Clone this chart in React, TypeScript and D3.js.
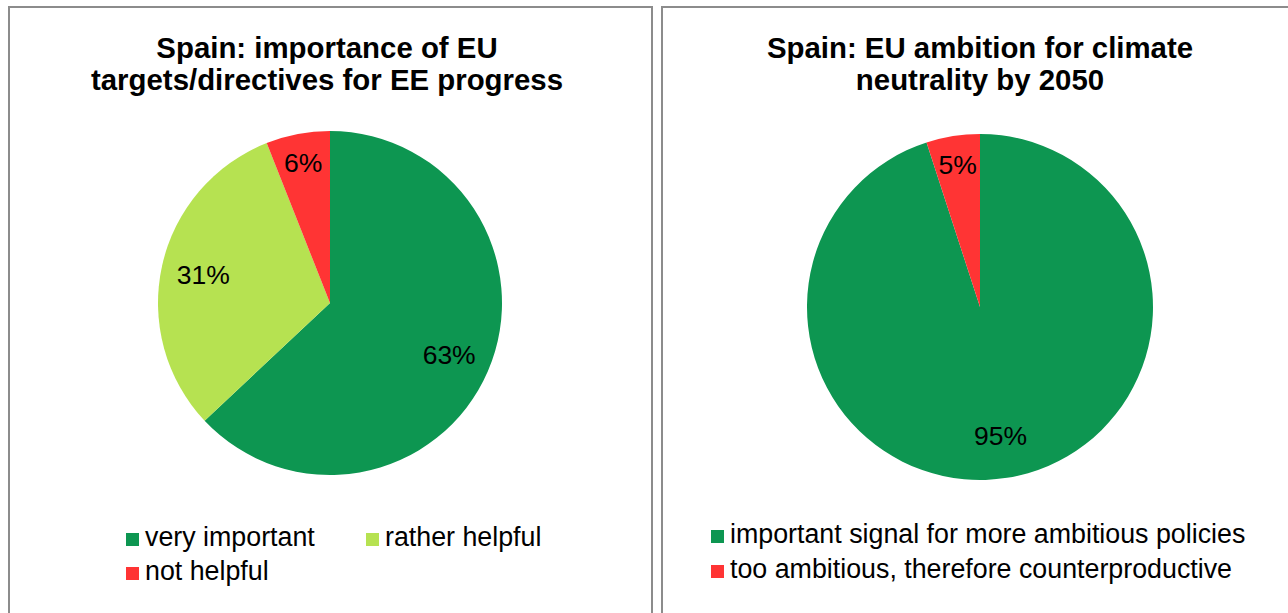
import { useEffect, useRef } from 'react';
import * as d3 from 'd3';

// chart 1: importance of EU targets
const targetCategories = ['very important', 'rather helpful', 'not helpful'];
const targetValues = [63, 31, 6];

// chart 2: climate neutrality ambition
const ambitionCategories = ['important signal for more ambitious policies', 'too ambitious, therefore counterproductive'];
const ambitionValues = [95, 5];

const colors = ['#0d9651', '#b6e251', '#ff3434'];
const ambitionColors = ['#0d9651', '#ff3434'];

const FONT = '"Liberation Sans", Arial, sans-serif';

interface PanelSpec {
  x: number;
  title: string[];
  titleX: number;
  categories: string[];
  values: number[];
  colors: string[];
  cx: number;
  cy: number;
  r: number;
  legendCols: number[];
  legendRows: number[];
}

export default function App() {
  const svgRef = useRef<SVGSVGElement>(null);

  useEffect(() => {
    if (!svgRef.current) return;
    const svg = d3.select(svgRef.current);
    svg.selectAll('*').remove();

    const panels: PanelSpec[] = [
      {
        x: 9,
        title: ['Spain: importance of EU', 'targets/directives for EE progress'],
        titleX: 327,
        categories: targetCategories,
        values: targetValues,
        colors: colors,
        cx: 330,
        cy: 303,
        r: 172,
        legendCols: [126, 366],
        legendRows: [546, 580],
      },
      {
        x: 662,
        title: ['Spain: EU ambition for climate', 'neutrality by 2050'],
        titleX: 980,
        categories: ambitionCategories,
        values: ambitionValues,
        colors: ambitionColors,
        cx: 980,
        cy: 307,
        r: 173,
        legendCols: [711],
        legendRows: [543, 578],
      },
    ];

    panels.forEach((p) => {
      // frame
      svg.append('rect')
        .attr('x', p.x)
        .attr('y', 7)
        .attr('width', 643)
        .attr('height', 700)
        .attr('fill', '#fff')
        .attr('stroke', '#8c8c8c')
        .attr('stroke-width', 2);

      // title
      p.title.forEach((line, i) => {
        svg.append('text')
          .attr('x', p.titleX)
          .attr('y', 58 + i * 32)
          .attr('text-anchor', 'middle')
          .attr('font-family', FONT)
          .attr('font-weight', 'bold')
          .attr('font-size', 29.4)
          .attr('fill', '#000')
          .text(line);
      });

      const pie = d3.pie<number>().sort(null).value((d) => d);
      const arcs = pie(p.values);
      const arc = d3.arc<d3.PieArcDatum<number>>().innerRadius(0).outerRadius(p.r);
      const total = d3.sum(p.values);

      const g = svg.append('g').attr('transform', `translate(${p.cx},${p.cy})`);

      g.selectAll('path')
        .data(arcs)
        .enter()
        .append('path')
        .attr('d', arc)
        .attr('fill', (_, i) => p.colors[i]);

      // labels, small slices pushed toward the rim
      arcs.forEach((a) => {
        const frac = a.value / total;
        const lr = p.r * (frac < 0.1 ? 0.83 : 0.755);
        const labelArc = d3.arc<d3.PieArcDatum<number>>().innerRadius(lr).outerRadius(lr);
        const [lx, ly] = labelArc.centroid(a);
        g.append('text')
          .attr('x', lx)
          .attr('y', ly)
          .attr('dy', '0.35em')
          .attr('text-anchor', 'middle')
          .attr('font-family', FONT)
          .attr('font-size', 26.5)
          .attr('fill', '#000')
          .text(`${a.value}%`);
      });

      // legend
      p.categories.forEach((c, i) => {
        const cols = p.legendCols.length;
        const lx = p.legendCols[i % cols];
        const ly = p.legendRows[Math.floor(i / cols)];
        svg.append('rect')
          .attr('x', lx)
          .attr('y', ly - 13)
          .attr('width', 13)
          .attr('height', 13)
          .attr('fill', p.colors[i]);
        svg.append('text')
          .attr('x', lx + 19)
          .attr('y', ly)
          .attr('font-family', FONT)
          .attr('font-size', 26.8)
          .attr('fill', '#000')
          .text(c);
      });
    });
  }, []);

  return (
    <svg
      ref={svgRef}
      width={1288}
      height={613}
      style={{ position: 'absolute', left: 0, top: 0, background: '#fff' }}
    />
  );
}
